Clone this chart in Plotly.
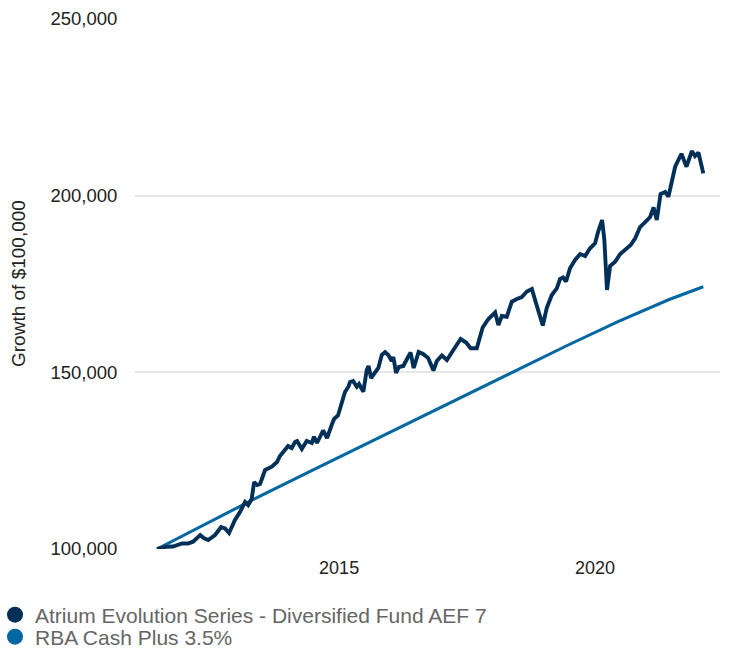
import plotly.graph_objects as go

fund_name = "Atrium Evolution Series - Diversified Fund AEF 7"
cash_name = "RBA Cash Plus 3.5%"

fund_dates = [
    "2011-06-12", "2011-08-19", "2011-10-04", "2011-11-02", "2011-12-08", "2012-01-19", "2012-02-24",
    "2012-04-15", "2012-05-10", "2012-06-11", "2012-07-30", "2012-09-11", "2012-10-09", "2012-11-07",
    "2012-12-19", "2013-01-24", "2013-03-01", "2013-03-23", "2013-04-17", "2013-05-05", "2013-05-26",
    "2013-06-16", "2013-07-22", "2013-09-08", "2013-10-15", "2013-11-05", "2013-12-12", "2014-01-02",
    "2014-01-28", "2014-02-21", "2014-03-07", "2014-04-10", "2014-05-15", "2014-06-20", "2014-07-06",
    "2014-07-27", "2014-09-09", "2014-10-07", "2014-11-09", "2014-11-26", "2014-12-24", "2015-01-22",
    "2015-02-12", "2015-03-08", "2015-03-20", "2015-04-11", "2015-05-07", "2015-05-23", "2015-06-23",
    "2015-07-17", "2015-07-30", "2015-08-17", "2015-09-02", "2015-10-08", "2015-11-01", "2015-11-25",
    "2015-12-18", "2016-01-11", "2016-01-23", "2016-02-11", "2016-03-03", "2016-04-03", "2016-05-07",
    "2016-05-25", "2016-06-16", "2016-07-21", "2016-08-22", "2016-09-27", "2016-11-04", "2016-11-28",
    "2017-01-03", "2017-02-08", "2017-03-26", "2017-05-17", "2017-06-25", "2017-07-27", "2017-09-09",
    "2017-10-21", "2017-12-01", "2018-01-18", "2018-02-10", "2018-03-07", "2018-04-11", "2018-05-17",
    "2018-06-22", "2018-07-27", "2018-09-01", "2018-10-07", "2018-10-30", "2018-11-23", "2018-12-24",
    "2019-01-21", "2019-02-26", "2019-04-03", "2019-04-26", "2019-05-18", "2019-06-08", "2019-07-06",
    "2019-08-11", "2019-09-16", "2019-10-22", "2019-11-26", "2020-01-01", "2020-01-24", "2020-02-20",
    "2020-03-07", "2020-03-26", "2020-04-17", "2020-05-23", "2020-06-28", "2020-08-02", "2020-09-11",
    "2020-10-13", "2020-11-17", "2020-12-23", "2021-01-28", "2021-02-21", "2021-03-16", "2021-04-12",
    "2021-05-15", "2021-06-07", "2021-07-01", "2021-07-25", "2021-09-08", "2021-10-14", "2021-11-21",
    "2021-12-14", "2022-01-07", "2022-01-31", "2022-02-11",
]
fund_values = [
    100000, 100650, 100710, 101130, 101560, 101560, 102070,
    103960, 103110, 102550, 103960, 106230, 105800, 104530,
    108210, 110470, 113300, 112450, 114150, 118960, 118110,
    118400, 122360, 123290, 124620, 126320, 128020, 129150,
    128580, 130280, 130560, 128300, 130560, 130000, 131780,
    130000, 133540, 131410, 135090, 136790, 137780, 141320,
    144430, 145930, 147260, 147540, 145930, 146700, 144520,
    150660, 151790, 148390, 149240, 151220, 154900, 155750,
    154900, 153200, 154340, 149810, 151510, 151790, 154340,
    155610, 151220, 155750, 155190, 154050, 150520, 153200,
    154760, 153490, 156320, 159430, 158440, 156800, 156800,
    162690, 165090, 166930, 163390, 165940, 165740, 169990,
    170750, 171320, 172870, 173580, 170470, 167070, 163250,
    168200, 171880, 173780, 176410, 176840, 175700, 179440,
    181790, 183490, 182920, 185100, 186510, 189990, 193110,
    187450, 173300, 180090, 181310, 183490, 184620, 186030,
    187930, 191130, 192540, 193960, 196650, 193110, 200470,
    201030, 199700, 203860, 208190, 211870, 208190, 212630,
    211220, 212210, 207540, 206320,
]

cash_dates = [
    "2011-06-12", "2012-06-12", "2013-06-12", "2014-06-12", "2015-06-12", "2016-06-12",
    "2017-06-12", "2018-06-12", "2019-06-12", "2020-06-12", "2021-06-12", "2022-02-11",
]
cash_values = [
    100000, 107530, 114910, 122020, 129120, 136220,
    143330, 150430, 157530, 164380, 170610, 174230,
]

y_ticks = [100000, 150000, 200000, 250000]
x_tick_vals = ["2015-01-01", "2020-01-01"]
x_tick_text = ["2015", "2020"]

NAVY = "#003057"
BLUE = "#0067a3"
FONT = "Liberation Sans, Arial, sans-serif"

fig = go.Figure()
fig.add_trace(go.Scatter(x=cash_dates, y=cash_values, mode="lines", name=cash_name,
                         line=dict(color=BLUE, width=3), showlegend=False))
fig.add_trace(go.Scatter(x=fund_dates, y=fund_values, mode="lines", name=fund_name,
                         line=dict(color=NAVY, width=3.9, shape="linear"), showlegend=False))
# legend entries (circle symbols)
fig.add_trace(go.Scatter(x=[None], y=[None], mode="markers", name=fund_name,
                         marker=dict(color=NAVY, size=16, symbol="circle"), legend="legend"))
fig.add_trace(go.Scatter(x=[None], y=[None], mode="markers", name=cash_name,
                         marker=dict(color=BLUE, size=16, symbol="circle"), legend="legend2"))

PLOT_W, PLOT_H, PLOT_L, PLOT_B = 585, 530, 135, 549
legend_x = (-5 - PLOT_L) / PLOT_W
legend_common = dict(xref="paper", yref="paper", xanchor="left", yanchor="middle",
                     font=dict(family=FONT, size=21, color="#666666"), bgcolor="rgba(0,0,0,0)",
                     borderwidth=0)

fig.update_layout(
    width=730, height=649,
    margin=dict(l=135, r=10, t=19, b=100, autoexpand=False),
    paper_bgcolor="white", plot_bgcolor="white",
    font=dict(family=FONT, size=18, color="#222222"),
    showlegend=True,
    legend=dict(x=legend_x, y=(PLOT_B - 615) / PLOT_H, **legend_common),
    legend2=dict(x=legend_x, y=(PLOT_B - 637) / PLOT_H, **legend_common),
    xaxis=dict(type="date", range=["2011-01-06", "2022-06-10"], tickvals=x_tick_vals,
               ticktext=x_tick_text, showgrid=False, zeroline=False, showline=False,
               ticks="outside", ticklen=2, tickcolor="rgba(0,0,0,0)",
               tickfont=dict(family=FONT, size=18, color="#222222")),
    yaxis=dict(range=[100000, 250000], tickvals=y_ticks, tickformat=",", showgrid=True,
               gridcolor="#e6e6e6", gridwidth=1.5, zeroline=False, showline=False,
               ticks="outside", ticklen=13, tickcolor="rgba(0,0,0,0)",
               tickfont=dict(family=FONT, size=18.5, color="#222222")),
    annotations=[dict(text="Growth of $100,000", xref="paper", yref="paper",
                      x=(18 - PLOT_L) / PLOT_W, y=0.5,
                      textangle=-90, showarrow=False, xanchor="center", yanchor="middle",
                      font=dict(family=FONT, size=19, color="#222222"))],
)

fig.write_html("out.html", config={"displayModeBar": False},
               post_script="document.body.style.margin='0px';")
